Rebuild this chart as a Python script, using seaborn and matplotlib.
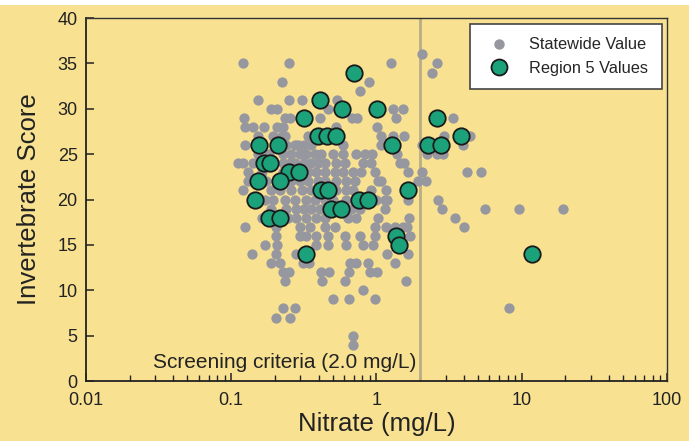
import matplotlib
matplotlib.use("Agg")
import matplotlib.pyplot as plt
from matplotlib.lines import Line2D
from matplotlib.patches import Rectangle
import seaborn as sns
import pandas as pd

# Statewide sites: invertebrate score and the nitrate readings at that score
statewide_rows = {
    36: [2.07],
    35: [0.121, 0.252, 1.27, 2.63],
    34: [2.43],
    33: [0.225, 0.895],
    32: [0.776],
    31: [0.152, 0.252, 0.305, 0.539],
    30: [0.189, 0.208, 0.467, 1.31, 1.53],
    29: [0.123, 0.236, 0.256, 0.412, 0.684, 0.740, 1.37, 3.39],
    28: [0.125, 0.142, 0.169, 0.208, 0.229, 0.530, 1.016],
    27: [0.154, 0.195, 0.225, 0.236, 0.340, 0.412, 0.547, 1.08, 1.31, 1.56, 2.94, 4.44],
    26: [0.125, 0.240, 0.277, 0.290, 0.315, 0.357, 0.593, 1.08, 2.07, 3.97],
    25: [0.154, 0.181, 0.229, 0.260, 0.300, 0.330, 0.380, 0.418, 0.506, 0.593,
         0.728, 0.840, 0.939, 1.39, 2.24, 2.63, 2.89],
    24: [0.112, 0.121, 0.142, 0.229, 0.256, 0.277, 0.315, 0.357, 0.399, 0.446,
         0.530, 0.612, 0.813, 0.924, 1.46, 1.56],
    23: [0.131, 0.162, 0.229, 0.256, 0.300, 0.340, 0.386, 0.446, 0.522, 0.593,
         0.695, 0.788, 0.984, 1.66, 2.07, 4.23, 5.28],
    22: [0.131, 0.175, 0.229, 0.260, 0.300, 0.340, 0.399, 0.446, 0.530, 0.622,
         0.717, 1.032, 1.07, 1.92, 2.21],
    21: [0.121, 0.189, 0.218, 0.260, 0.305, 0.357, 0.412, 0.467, 0.530, 0.622,
         0.695, 0.924, 1.17],
    20: [0.172, 0.195, 0.236, 0.277, 0.325, 0.380, 0.446, 0.506, 0.622, 1.0,
         1.15, 1.19, 1.66, 2.67],
    19: [0.189, 0.240, 0.281, 0.315, 0.357, 0.412, 0.467, 0.547, 0.673, 0.776,
         1.15, 2.85, 5.63, 9.66, 19.4],
    18: [0.162, 0.248, 0.281, 0.325, 0.386, 0.446, 0.642, 0.728, 1.032, 1.69, 3.50],
    17: [0.125, 0.202, 0.300, 0.351, 0.446, 0.522, 0.984, 1.17, 1.35, 1.53, 1.63, 4.03],
    16: [0.202, 0.300, 0.330, 0.386, 0.467, 0.612, 0.776, 0.984, 1.71],
    15: [0.172, 0.208, 0.386, 0.467, 0.622, 0.813, 0.954],
    14: [0.140, 0.205, 0.281, 1.19, 1.66],
    13: [0.189, 0.218, 0.310, 0.346, 0.662, 0.728, 0.881, 1.35],
    12: [0.229, 0.252, 0.418, 0.475, 0.652, 0.909, 1.016],
    11: [0.233, 0.425, 0.612, 1.61],
    10: [0.813],
    9: [0.506, 0.652, 0.984],
    8: [0.229, 0.277, 8.24],
    7: [0.202, 0.256],
    5: [0.695],
    4: [0.695],
}

# Region 5 sites
region5_nitrate = [0.706, 0.412, 0.583, 1.016, 0.319, 2.63,
                   0.399, 0.460, 0.530, 3.85,
                   0.156, 0.211, 1.29, 2.28, 2.80,
                   0.167, 0.186, 0.252, 0.295, 0.152, 0.218,
                   0.418, 0.467, 1.66, 0.145, 0.764, 0.881,
                   0.490, 0.574, 0.181, 0.218, 1.37, 1.42, 0.330, 11.7]
region5_score = [34, 31, 30, 30, 29, 29,
                 27, 27, 27, 27,
                 26, 26, 26, 26, 26,
                 24, 24, 23, 23, 22, 22,
                 21, 21, 21, 20, 20, 20,
                 19, 19, 18, 18, 16, 15, 14, 14]

screening_nitrate = 2.0

statewide = pd.DataFrame(
    [(n, s) for s, vals in statewide_rows.items() for n in vals],
    columns=["nitrate", "score"],
)
region5 = pd.DataFrame({"nitrate": region5_nitrate, "score": region5_score})

bg = "#F8E292"
gray = "#96979F"
green = "#1BA27A"

sns.set_theme(style="ticks")
plt.rcParams["font.family"] = ["Liberation Sans", "DejaVu Sans"]

fig = plt.figure(figsize=(6.89, 4.41), dpi=100, facecolor=bg)
ax = fig.add_axes([0.1248, 0.136, 0.843, 0.823])
ax.set_facecolor(bg)
fig.patches.append(Rectangle((0, 0.989), 1, 0.011, transform=fig.transFigure,
                             facecolor="white", edgecolor="none", zorder=0))

ax.axvline(screening_nitrate, color="#B8AD86", lw=2.0, zorder=1)

sns.scatterplot(data=statewide, x="nitrate", y="score", ax=ax, color=gray,
                s=55, linewidth=0, zorder=2, legend=False)
sns.scatterplot(data=region5, x="nitrate", y="score", ax=ax, color=green,
                s=140, edgecolor="#1A1A1A", linewidth=1.3, zorder=3, legend=False)

ax.set_xscale("log")
ax.set_xlim(0.01, 100)
ax.set_ylim(0, 40)
ax.set_yticks(range(0, 41, 5))
ax.set_xticks([0.01, 0.1, 1, 10, 100])
ax.set_xticklabels(["0.01", "0.1", "1", "10", "100"])

ax.tick_params(axis="both", which="major", direction="in", length=6, width=1.1,
               labelsize=13, colors="#222222", top=False, right=False)
ax.tick_params(axis="x", which="minor", direction="in", length=4, width=1.0,
               top=False, colors="#222222")
ax.tick_params(axis="x", which="major", pad=8)
ax.tick_params(axis="y", which="major", pad=6)

for side in ["left", "bottom"]:
    ax.spines[side].set_color("#222222")
    ax.spines[side].set_linewidth(1.3)
for side in ["top", "right"]:
    ax.spines[side].set_color("#333333")
    ax.spines[side].set_linewidth(1.0)

ax.set_xlabel("Nitrate (mg/L)", fontsize=18.5, color="#222222", labelpad=2)
ax.set_ylabel("Invertebrate Score", fontsize=18.5, color="#222222", labelpad=12)

ax.text(1.88, 1.45, "Screening criteria (2.0 mg/L)", ha="right", va="baseline",
        fontsize=15, color="#222222")

handles = [
    Line2D([], [], marker="o", linestyle="none", markersize=7.5,
           markerfacecolor=gray, markeredgecolor="none", label="Statewide Value"),
    Line2D([], [], marker="o", linestyle="none", markersize=11.5,
           markerfacecolor=green, markeredgecolor="#1A1A1A", markeredgewidth=1.3,
           label="Region 5 Values"),
]
leg = ax.legend(handles=handles, loc="upper right", bbox_to_anchor=(0.991, 0.983),
                borderaxespad=0, frameon=True, fancybox=False, fontsize=11.8,
                handletextpad=0.85, borderpad=0.8, labelspacing=0.5,
                handlelength=2.0)
leg.get_frame().set_edgecolor("#444444")
leg.get_frame().set_linewidth(1.2)
leg.get_frame().set_facecolor("white")
leg.get_frame().set_alpha(1)

fig.savefig("out.png", dpi=100, facecolor=bg)
